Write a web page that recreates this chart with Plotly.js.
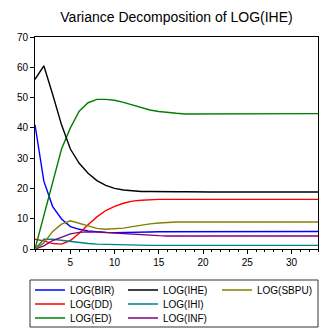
<!DOCTYPE html>
<html><head><meta charset="utf-8">
<script src="https://cdn.plot.ly/plotly-3.0.1.min.js"></script>
<style>html,body{margin:0;padding:0;background:#fff}#chart{width:321px;height:329px}</style>
</head><body><div id="chart"></div>
<script>
const periods = Array.from({length: 33}, (_, i) => i + 1);
const seriesNames = ["LOG(BIR)", "LOG(DD)", "LOG(ED)", "LOG(IHE)", "LOG(IHI)", "LOG(INF)", "LOG(SBPU)"];
const BIR  = [41.0, 22.4, 14.0, 9.9, 7.4, 6.5, 6.0, 5.7, 5.5, 5.4, 5.4, 5.4, 5.5, 5.6, 5.7, 5.7, 5.8, 5.8, 5.8, 5.8, 5.8, 5.8, 5.8, 5.8, 5.8, 5.8, 5.8, 5.8, 5.8, 5.8, 5.8, 5.8, 5.8];
const DD   = [3.2, 2.7, 1.8, 1.6, 2.8, 5.2, 8.0, 10.6, 12.7, 14.1, 15.1, 15.8, 16.1, 16.3, 16.4, 16.4, 16.4, 16.4, 16.4, 16.4, 16.4, 16.4, 16.4, 16.4, 16.4, 16.4, 16.4, 16.4, 16.4, 16.4, 16.4, 16.4, 16.4];
const ED   = [0.0, 11.0, 22.0, 33.0, 40.0, 45.5, 48.3, 49.4, 49.4, 49.1, 48.4, 47.5, 46.6, 45.9, 45.4, 45.0, 44.8, 44.6, 44.6, 44.6, 44.6, 44.7, 44.7, 44.7, 44.7, 44.7, 44.7, 44.7, 44.7, 44.7, 44.7, 44.7, 44.7];
const IHE  = [56.0, 60.5, 51.0, 41.0, 33.0, 28.3, 25.0, 22.6, 21.0, 20.0, 19.5, 19.2, 19.0, 19.0, 18.9, 18.9, 18.9, 18.9, 18.8, 18.8, 18.8, 18.8, 18.8, 18.8, 18.8, 18.8, 18.8, 18.8, 18.8, 18.8, 18.8, 18.8, 18.8];
const IHI  = [0.0, 3.2, 3.2, 2.8, 2.4, 2.1, 1.8, 1.6, 1.5, 1.4, 1.3, 1.2, 1.2, 1.2, 1.2, 1.2, 1.2, 1.2, 1.2, 1.2, 1.2, 1.2, 1.2, 1.2, 1.2, 1.2, 1.2, 1.2, 1.2, 1.2, 1.2, 1.2, 1.2];
const INF  = [0.0, 1.0, 2.8, 4.0, 5.0, 5.5, 5.7, 5.6, 5.4, 5.2, 5.0, 4.8, 4.6, 4.5, 4.4, 4.3, 4.3, 4.3, 4.3, 4.3, 4.3, 4.3, 4.3, 4.3, 4.3, 4.3, 4.3, 4.3, 4.3, 4.3, 4.3, 4.3, 4.3];
const SBPU = [0.0, 2.0, 5.8, 8.2, 9.3, 8.5, 7.5, 6.8, 6.5, 6.6, 6.9, 7.4, 7.9, 8.3, 8.6, 8.8, 8.9, 8.9, 8.9, 8.9, 8.9, 8.9, 8.9, 8.9, 8.9, 8.9, 8.9, 8.9, 8.9, 8.9, 8.9, 8.9, 8.9];
const xTicks = [5, 10, 15, 20, 25, 30];

const values = [BIR, DD, ED, IHE, IHI, INF, SBPU];
const colors = ["#0000FF", "#FF0000", "#008000", "#000000", "#008080", "#800080", "#808000"];
const legendIds = ["legend", "legend2", "legend3", "legend4", "legend5", "legend6", "legend7"];
// legend placement: [left px, row center px]
const legPos = [[30, 290], [30, 304], [30, 318], [123, 290], [123, 304], [123, 318], [217, 290]];

const L = 35, R = 3, T = 37, B = 80, W = 321, H = 329;
const pw = W - L - R, ph = H - T - B;
const font = {family: "Liberation Sans, Arial, sans-serif", size: 10, color: "#000"};

const traces = values.map((v, i) => ({
  x: periods, y: v, type: "scatter", mode: "lines", name: seriesNames[i],
  line: {color: colors[i], width: 1.4}, legend: legendIds[i]
}));

const layout = {
  width: W, height: H,
  margin: {l: L, r: R, t: T, b: B, autoexpand: false},
  paper_bgcolor: "#fff", plot_bgcolor: "#fff",
  font: font,
  title: {text: "Variance Decomposition of LOG(IHE)", font: {family: "Liberation Sans, Arial, sans-serif", size: 14, color: "#000"}, x: 0.5, xref: "paper", y: 1 - 17 / H, yanchor: "middle"},
  xaxis: {range: [1, 33], tickvals: xTicks, ticks: "outside", ticklen: 4, tickcolor: "#000", showline: true, linecolor: "#000", linewidth: 1, mirror: true, showgrid: false, zeroline: false, tickfont: font,
          minor: {dtick: 1, tick0: 0, ticks: "outside", ticklen: 2, tickcolor: "#000"}},
  yaxis: {range: [0, 70], dtick: 10, ticks: "outside", ticklen: 4, tickcolor: "#000", showline: true, linecolor: "#000", linewidth: 1, mirror: true, showgrid: false, zeroline: false, tickfont: font},
  shapes: [{type: "rect", xref: "paper", yref: "paper", x0: (30 - L) / pw, x1: (318 - L) / pw, y0: (T + ph - 280) / ph, y1: (T + ph - 327) / ph, line: {color: "#333", width: 1}}],
  showlegend: true
};
legendIds.forEach((id, i) => {
  layout[id] = {x: (legPos[i][0] - L) / pw, xanchor: "left", y: (T + ph - legPos[i][1]) / ph, yanchor: "middle",
    bgcolor: "rgba(0,0,0,0)", borderwidth: 0, font: font, itemwidth: 30, orientation: "v"};
});
Plotly.newPlot("chart", traces, layout, {staticPlot: true});
</script></body></html>
